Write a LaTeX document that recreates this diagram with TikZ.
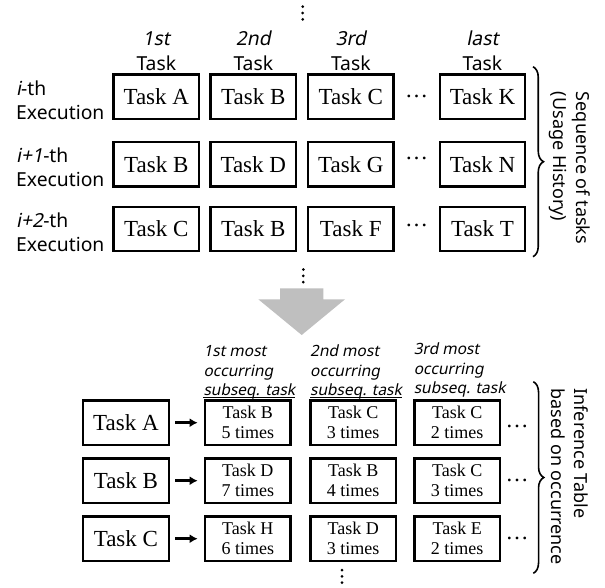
\documentclass[tikz,border=0pt]{standalone}
\usepackage{fontspec}
\setmainfont{Liberation Serif}
\newfontfamily\lblfont[ItalicFont={Noto Sans},ItalicFeatures={FakeSlant=0.2}]{Noto Sans}
\usetikzlibrary{arrows.meta,decorations.pathreplacing,positioning}

\begin{document}
\begin{tikzpicture}[x=1pt,y=-1pt]
	\tikzset{
		every node/.style={inner sep=0pt},
		% big task box
		taskbox/.style={draw,line width=2.2pt,minimum width=85.5pt,minimum height=44.5pt,font=\fontsize{23}{25}\selectfont},
		% box with task and count
		countbox/.style={draw,line width=2.2pt,minimum width=85.5pt,minimum height=44.5pt,align=center,font=\fontsize{18}{20}\selectfont},
		sanslbl/.style={font=\lblfont\fontsize{19.3}{23.4}\selectfont},
		sidelbl/.style={font=\lblfont\fontsize{18}{23.4}\selectfont,rotate=-90,align=left,anchor=west},
		hdrlbl/.style={font=\lblfont\itshape\fontsize{15.5}{20}\selectfont,anchor=base west},
		dotlbl/.style={font=\fontsize{23}{23}\selectfont},
		toarrow/.style={line width=2.7pt,-{Latex[length=8pt,width=9pt]},shorten <=5.4pt,shorten >=6.3pt},
		bracel/.style={line width=1.6pt,decorate,decoration={brace,amplitude=10.5pt}},
		% three dots
		vdot/.pic={\fill (0,0)circle(1.5) (0,6.3)circle(1.5) (0,12.6)circle(1.5);},
	}
	\useasboundingbox (0,0) rectangle (605,587);
	%
	% usage history
	\foreach \row/\yy/\dy/\a/\b/\c/\d in {1/96.7/96.7/A/B/C/K, 2/164.2/158/B/D/G/N, 3/229/225/C/B/F/T}{
		\node[taskbox] (t\row1) at (156.3,\yy) {Task \a};
		\node[taskbox] (t\row2) at (253.3,\yy) {Task \b};
		\node[taskbox] (t\row3) at (350.8,\yy) {Task \c};
		\node[taskbox] (t\row4) at (482.5,\yy) {Task \d};
		\node[dotlbl] (dt\row) at (416.7,\dy) {…};
	}
	\foreach \row/\yb/\lbl in {1/119.3/{\textit{i}-th}, 2/186/{\textit{i+1}-th}, 3/251/{\textit{i+2}-th}}{
		\node[sanslbl,anchor=base west] (ex\row) at (16,\yb) {Execution};
		\node[sanslbl,anchor=base west] (it\row) at (16,\yb-23.5) {\lbl};
	}
	\foreach \col/\ord in {1/1st,2/2nd,3/3rd,4/last}{
		\node[sanslbl,anchor=base] (hk\col) at (t1\col.north |- 0,70.3) {Task};
		\node[sanslbl,anchor=base] (ho\col) at ([yshift=24.8pt]hk\col.base) {\textit{\ord}};
	}
	\draw (302.7,6.7)pic{vdot} (303.3,269.5)pic{vdot};
	%
	\coordinate (b1) at (533,66.7);
	\coordinate (b2) at (533,256.7);
	\draw[bracel] (b1)--(b2);
	\node[sidelbl] (seq) at (570,91.7) {Sequence of tasks\\(Usage History)};
	%
	% big arrow
	\fill[gray!50] (280,288.3)--(323.3,288.3)--(323.3,299.3)--(345,299.3)--(301.7,335)--(258.3,299.3)--(280,299.3)--cycle;
	%
	% inference table
	\foreach \row/\yy/\dy/\src/\a/\na/\b/\nb/\c/\nc in {1/422.7/426.7/A/B/5/C/3/C/2, 2/480.7/480/B/D/7/B/4/C/3, 3/538.7/538.3/C/H/6/D/3/E/2}{
		\node[taskbox] (s\row) at (125.9,\yy) {Task \src};
		\node[countbox] (c\row1) at (247.8,\yy) {Task \a\\\na~times};
		\node[countbox] (c\row2) at (353.2,\yy) {Task \b\\\nb~times};
		\node[countbox] (c\row3) at (457.2,\yy) {Task \c\\\nc~times};
		\node[dotlbl] (dc\row) at (517,\dy) {…};
		\draw[toarrow] (s\row)--(c\row1);
	}
	\foreach \col/\ord/\xx/\yy in {1/1st/203.3/356.2, 2/2nd/310/356.2, 3/3rd/413.6/354.2}{
		\node[hdrlbl] (hm\col) at (\xx,\yy) {\ord{} most};
		\node[hdrlbl] (hc\col) at (\xx,\yy+20) {occurring};
		\node[hdrlbl] (hs\col) at (\xx,\yy+39.5) {subseq. task};
	}
	\draw[line width=0.8pt] ([yshift=-1.6pt]hs1.base west)--([yshift=-1.6pt]hs1.base east) ([yshift=-1.6pt]hs2.base west)--([yshift=-1.6pt]hs2.base east);
	\draw (342,570)pic{vdot};
	%
	\coordinate (b3) at (533.3,381.7);
	\coordinate (b4) at (533.3,573.3);
	\draw[bracel] (b3)--(b4);
	\node[sidelbl] (inf) at (570,388.3) {Inference Table\\based on occurrence};
\end{tikzpicture}
\end{document}
